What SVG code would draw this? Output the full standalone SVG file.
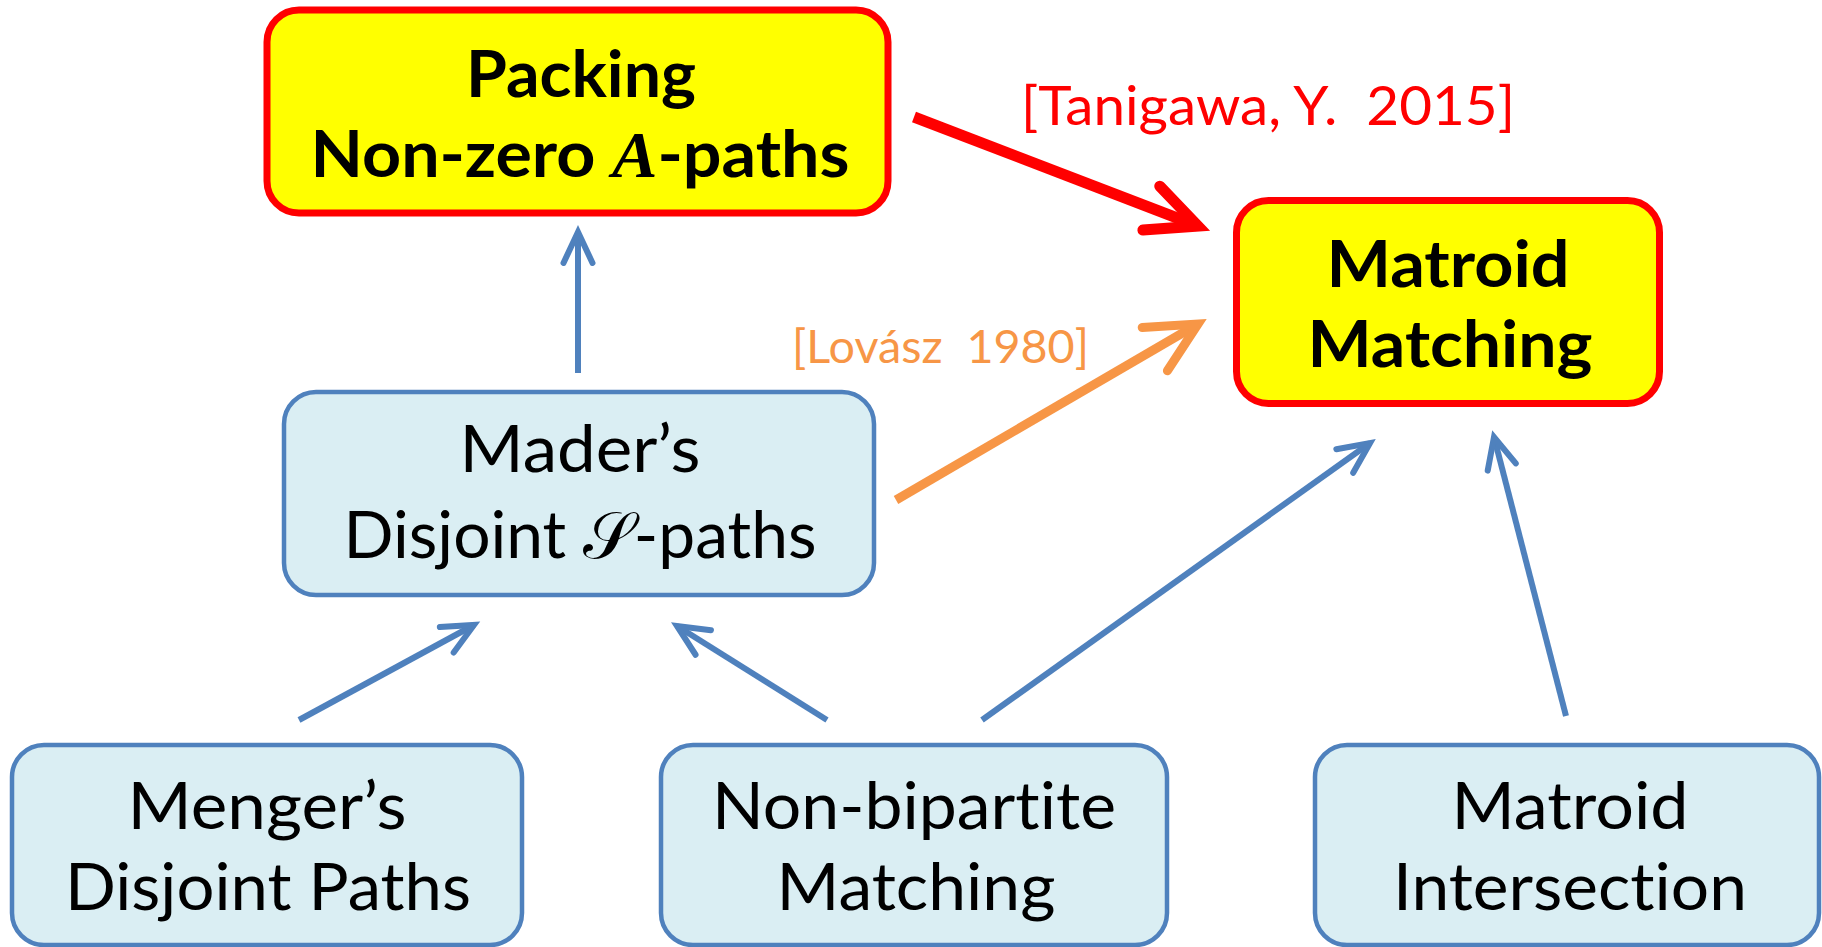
<svg xmlns="http://www.w3.org/2000/svg" width="1822" height="947" viewBox="0 0 1822 947">
  <style>
    text { font-variant-ligatures: none; }
    .lbl { font-family: Lato, "Open Sans", "Liberation Sans", sans-serif; font-size: 65px; fill: #000; text-anchor: middle; }
    .bold { font-weight: bold; }
    .math { font-family: "Liberation Serif", "DejaVu Serif", serif; font-style: italic; }
    .script { font-family: "DejaVu Serif", "DejaVu Sans", serif; }
    .red-box { fill: #FFFF00; stroke: #FF0000; stroke-width: 7; }
    .blue-box { fill: #DAEEF3; stroke: #4F81BD; stroke-width: 4.5; }
    .conn { fill: none; stroke-linecap: butt; }
    .blue { stroke: #4F81BD; stroke-width: 6; }
    .red { stroke: #FF0000; stroke-width: 11; }
    .orange { stroke: #F79646; stroke-width: 9; }
    .cite { font-family: Lato, "Open Sans", "Liberation Sans", sans-serif; }
  </style>
  <defs>
    <marker id="head-blue" markerUnits="userSpaceOnUse" orient="auto" refX="0" refY="0" markerWidth="80" markerHeight="80" viewBox="-60 -40 80 80" overflow="visible">
      <path d="M -31,-14.5 L 0,0 L -31,14.5" fill="none" stroke="#4F81BD" stroke-width="6" stroke-linecap="round" stroke-linejoin="miter"/>
    </marker>
    <marker id="head-red" markerUnits="userSpaceOnUse" orient="auto" refX="0" refY="0" markerWidth="120" markerHeight="120" viewBox="-90 -60 120 120" overflow="visible">
      <path d="M -50,-23.5 L 0,0 L -50,23.5" fill="none" stroke="#FF0000" stroke-width="11" stroke-linecap="round" stroke-linejoin="miter"/>
    </marker>
    <marker id="head-orange" markerUnits="userSpaceOnUse" orient="auto" refX="0" refY="0" markerWidth="120" markerHeight="120" viewBox="-90 -60 120 120" overflow="visible">
      <path d="M -50,-25 L 0,0 L -50,25" fill="none" stroke="#F79646" stroke-width="9" stroke-linecap="round" stroke-linejoin="miter"/>
    </marker>
  </defs>

  <!-- connectors -->
  <g id="connectors">
    <line class="conn blue" x1="578" y1="373" x2="578" y2="232" marker-end="url(#head-blue)"/>
    <line class="conn blue" x1="299" y1="720" x2="474" y2="625" marker-end="url(#head-blue)"/>
    <line class="conn blue" x1="827" y1="720" x2="677" y2="626" marker-end="url(#head-blue)"/>
    <line class="conn blue" x1="982" y1="720" x2="1370" y2="443" marker-end="url(#head-blue)"/>
    <line class="conn blue" x1="1566" y1="716" x2="1494" y2="437" marker-end="url(#head-blue)"/>
    <line class="conn red" x1="914" y1="117" x2="1198" y2="226" marker-end="url(#head-red)"/>
    <line class="conn orange" x1="896" y1="500" x2="1198" y2="324" marker-end="url(#head-orange)"/>
    <text class="cite" x="1021" y="125" font-size="54" fill="#FF0000" textLength="494" lengthAdjust="spacingAndGlyphs">[Tanigawa, Y.&#160; 2015]</text>
    <text class="cite" x="792" y="363" font-size="46.5" fill="#F79646" textLength="297" lengthAdjust="spacingAndGlyphs">[Lovász&#160; 1980]</text>
  </g>

  <!-- Packing Non-zero A-paths -->
  <g id="packing">
    <rect class="red-box" x="267" y="10" width="621" height="203" rx="32"/>
    <text class="lbl bold" x="581" y="97" textLength="230" lengthAdjust="spacingAndGlyphs">Packing</text>
    <text class="lbl bold" x="580" y="177" textLength="539" lengthAdjust="spacingAndGlyphs">Non-zero <tspan class="math">A</tspan>-paths</text>
  </g>

  <!-- Matroid Matching -->
  <g id="matroid-matching">
    <rect class="red-box" x="1236.5" y="200.5" width="423" height="203" rx="32"/>
    <text class="lbl bold" x="1448" y="287" textLength="243" lengthAdjust="spacingAndGlyphs">Matroid</text>
    <text class="lbl bold" x="1450" y="367" textLength="285" lengthAdjust="spacingAndGlyphs">Matching</text>
  </g>

  <!-- Mader's Disjoint S-paths -->
  <g id="mader">
    <rect class="blue-box" x="284" y="392" width="590" height="203" rx="32"/>
    <text class="lbl" x="580" y="472" textLength="241" lengthAdjust="spacingAndGlyphs">Mader’s</text>
    <text class="lbl" x="580" y="558" textLength="473" lengthAdjust="spacingAndGlyphs">Disjoint <tspan class="script">𝒮</tspan>-paths</text>
  </g>

  <!-- Menger's Disjoint Paths -->
  <g id="menger">
    <rect class="blue-box" x="12" y="745" width="510" height="200" rx="32"/>
    <text class="lbl" x="267" y="829" textLength="279" lengthAdjust="spacingAndGlyphs">Menger’s</text>
    <text class="lbl" x="268" y="910" textLength="406" lengthAdjust="spacingAndGlyphs">Disjoint Paths</text>
  </g>

  <!-- Non-bipartite Matching -->
  <g id="non-bipartite">
    <rect class="blue-box" x="661" y="745" width="506" height="200" rx="32"/>
    <text class="lbl" x="914" y="829" textLength="404" lengthAdjust="spacingAndGlyphs">Non-bipartite</text>
    <text class="lbl" x="916" y="910" textLength="279" lengthAdjust="spacingAndGlyphs">Matching</text>
  </g>

  <!-- Matroid Intersection -->
  <g id="matroid-intersection">
    <rect class="blue-box" x="1315" y="745" width="504" height="200" rx="32"/>
    <text class="lbl" x="1570" y="829" textLength="237" lengthAdjust="spacingAndGlyphs">Matroid</text>
    <text class="lbl" x="1570" y="910" textLength="354" lengthAdjust="spacingAndGlyphs">Intersection</text>
  </g>
</svg>
